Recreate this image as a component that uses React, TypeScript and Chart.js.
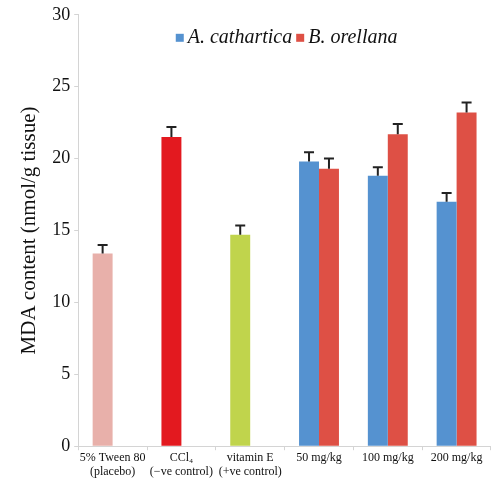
import React, { useEffect, useRef } from "react";
import { Chart, registerables } from "chart.js";

Chart.register(...registerables);

const categories: (string | string[])[] = [
  ["5% Tween 80", "(placebo)"],
  ["CCl\u2084", "(\u2212ve control)"],
  ["vitamin E", "(+ve control)"],
  "50 mg/kg",
  "100 mg/kg",
  "200 mg/kg",
];
const seriesNames = ["A. cathartica", "B. orellana"];
const seriesA = [13.4, 21.5, 14.7, 19.8, 18.8, 17.0];
const seriesB = [null, null, null, 19.3, 21.7, 23.2];
const errA = [0.6, 0.7, 0.65, 0.65, 0.6, 0.6];
const errB = [null, null, null, 0.7, 0.7, 0.7];
const colorsA = ["#e8b0aa", "#e3191f", "#c0d44c", "#5592d0", "#5592d0", "#5592d0"];
const colorB = "#de5045";
const legendColors = ["#5592d0", "#de5045"];
const yTicks = [0, 5, 10, 15, 20, 25, 30];

const errorBarPlugin = {
  id: "errorBars",
  afterDatasetsDraw(chart: any) {
    const ctx = chart.ctx;
    const yScale = chart.scales.y;
    const errs = [errA, errB];
    chart.data.datasets.forEach((ds: any, di: number) => {
      const meta = chart.getDatasetMeta(di);
      meta.data.forEach((bar: any, i: number) => {
        const v = ds.data[i];
        const e = errs[di][i];
        if (v == null || e == null) return;
        const yTop = yScale.getPixelForValue(v + e);
        ctx.save();
        ctx.strokeStyle = "#222";
        ctx.lineWidth = 2;
        ctx.beginPath();
        ctx.moveTo(bar.x, bar.y);
        ctx.lineTo(bar.x, yTop);
        ctx.moveTo(bar.x - 5, yTop);
        ctx.lineTo(bar.x + 5, yTop);
        ctx.stroke();
        ctx.restore();
      });
    });
  },
};

const legendPlugin = {
  id: "topLegend",
  afterDraw(chart: any) {
    const ctx = chart.ctx;
    const area = chart.chartArea;
    ctx.save();
    ctx.font = "italic 20px 'Liberation Serif'";
    ctx.textBaseline = "middle";
    const box = 8;
    const gapBox = 4;
    const gapItem = 4;
    const widths = seriesNames.map((n) => ctx.measureText(n).width);
    const total =
      widths.reduce((a, b) => a + b, 0) + seriesNames.length * (box + gapBox) + gapItem;
    let x = (area.left + area.right) / 2 - total / 2 + 2;
    const y = area.top + 23;
    seriesNames.forEach((n, i) => {
      ctx.fillStyle = legendColors[i];
      ctx.fillRect(x, y - box / 2, box, box);
      x += box + gapBox;
      ctx.fillStyle = "#111";
      ctx.fillText(n, x, y);
      x += widths[i] + gapItem;
    });
    ctx.restore();
  },
};

export default function App() {
  const ref = useRef<HTMLCanvasElement>(null);
  useEffect(() => {
    document.body.style.margin = "0";
    const chart = new Chart(ref.current!, {
      type: "bar",
      data: {
        labels: categories,
        datasets: [
          {
            label: seriesNames[0],
            data: seriesA,
            backgroundColor: colorsA,
            categoryPercentage: 0.58,
            barPercentage: 1,
          },
          {
            label: seriesNames[1],
            data: seriesB as any,
            backgroundColor: colorB,
            categoryPercentage: 0.58,
            barPercentage: 1,
          },
        ],
      },
      options: {
        animation: false,
        responsive: true,
        maintainAspectRatio: false,
        layout: { padding: { top: 14, right: 0, left: 17, bottom: 4 } },
        plugins: {
          tooltip: { enabled: false },
          legend: { display: false },
        },
        scales: {
          x: {
            grid: {
              display: true,
              drawOnChartArea: false,
              drawTicks: true,
              tickLength: 4,
              color: "#d4d4d4",
            },
            border: { color: "#d4d4d4" },
            ticks: {
              color: "#111",
              font: { family: "Liberation Serif", size: 12 },
              maxRotation: 0,
              autoSkip: false,
              padding: 0,
            },
          },
          y: {
            min: 0,
            max: 30,
            afterBuildTicks: (axis: any) => {
              axis.ticks = yTicks.map((v) => ({ value: v }));
            },
            grid: {
              display: true,
              drawOnChartArea: false,
              drawTicks: true,
              tickLength: 4,
              color: "#d4d4d4",
            },
            border: { color: "#d4d4d4" },
            ticks: {
              color: "#111",
              font: { family: "Liberation Serif", size: 18 },
              padding: 4,
            },
            title: {
              display: true,
              text: "MDA content (nmol/g tissue)",
              color: "#111",
              font: { family: "Liberation Serif", size: 21 },
              padding: { top: 0, bottom: 6 },
            },
          },
        },
      },
      plugins: [errorBarPlugin, legendPlugin],
    });
    return () => chart.destroy();
  }, []);
  return (
    <div style={{ position: "absolute", left: 0, top: 0, width: 491, height: 483 }}>
      <canvas ref={ref} />
    </div>
  );
}
